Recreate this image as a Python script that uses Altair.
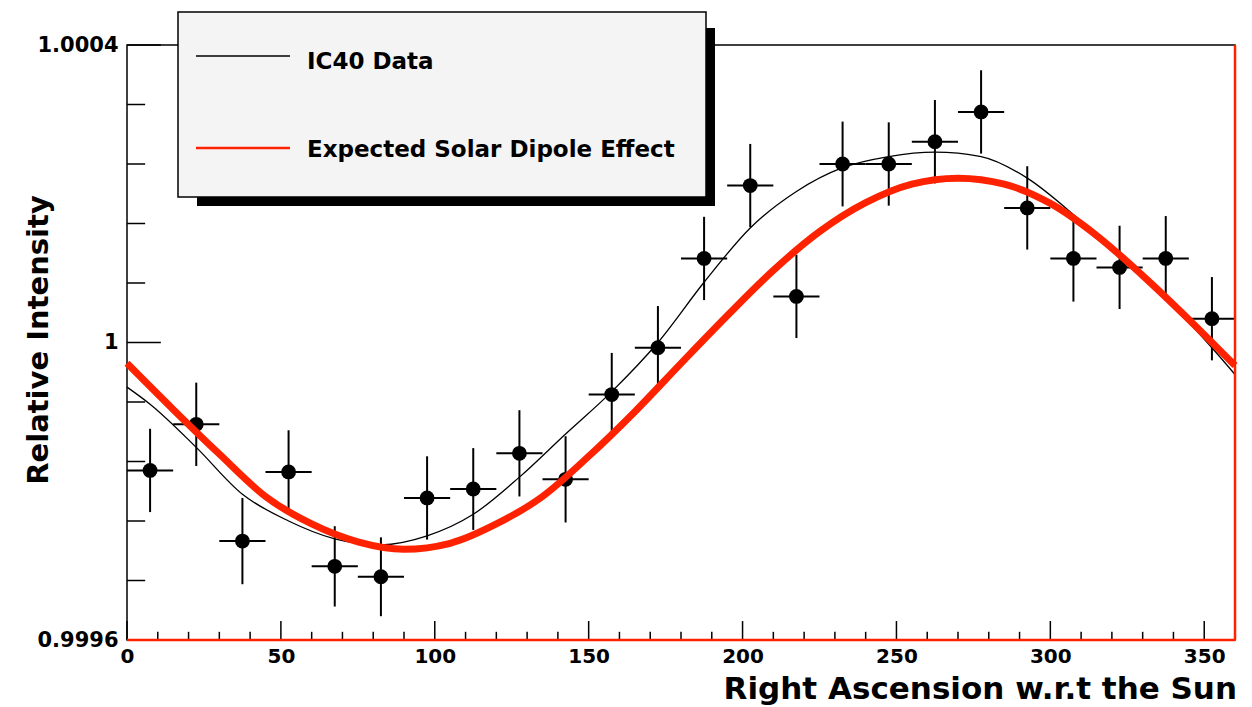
import altair as alt
import pandas as pd

# ---- data ----
ra_bins = [7.5, 22.5, 37.5, 52.5, 67.5, 82.5, 97.5, 112.5, 127.5, 142.5, 157.5, 172.5,
           187.5, 202.5, 217.5, 232.5, 247.5, 262.5, 277.5, 292.5, 307.5, 322.5, 337.5, 352.5]
intensity = [0.999828, 0.999890, 0.999733, 0.999826, 0.999699, 0.999685, 0.999791, 0.999803,
             0.999851, 0.999816, 0.999930, 0.999993, 1.000113, 1.000211, 1.000062, 1.000240,
             1.000240, 1.000270, 1.000310, 1.000181, 1.000113, 1.000101, 1.000113, 1.000032]
intensity_err = [0.000056, 0.000056, 0.000058, 0.000056, 0.000054, 0.000053, 0.000056, 0.000055,
                 0.000058, 0.000058, 0.000056, 0.000056, 0.000056, 0.000056, 0.000056, 0.000057,
                 0.000056, 0.000056, 0.000056, 0.000056, 0.000058, 0.000056, 0.000057, 0.000056]
bin_half_width = 7.5

expected_ra = [0, 15, 30, 45, 60, 75, 90, 105, 120, 135, 150, 165, 180,
               195, 210, 225, 240, 255, 270, 285, 300, 315, 330, 345, 360]
expected_val = [0.999972, 0.999910, 0.999850, 0.999793, 0.999756, 0.999732, 0.999722, 0.999730,
                0.999756, 0.999793, 0.999847, 0.999907, 0.999972, 1.000036, 1.000097, 1.000149,
                1.000188, 1.000213, 1.000221, 1.000213, 1.000187, 1.000144, 1.000090, 1.000031,
                0.999969]

fit_ra = [0, 7.5, 22.5, 37.5, 52.5, 67.5, 82.5, 97.5, 112.5, 127.5, 142.5, 157.5, 172.5,
          187.5, 202.5, 217.5, 232.5, 247.5, 262.5, 277.5, 292.5, 307.5, 322.5, 337.5, 352.5, 360]
fit_val = [0.999940, 0.999917, 0.999859, 0.999796, 0.999760, 0.999736, 0.999728, 0.999740,
           0.999769, 0.999819, 0.999877, 0.999934, 1.000000, 1.000081, 1.000154, 1.000203,
           1.000235, 1.000250, 1.000256, 1.000250, 1.000221, 1.000172, 1.000115, 1.000058,
           0.999993, 0.999957]

x_major = [0, 50, 100, 150, 200, 250, 300, 350]
x_minor = [10, 20, 30, 40, 60, 70, 80, 90, 110, 120, 130, 140, 160, 170, 180, 190,
           210, 220, 230, 240, 260, 270, 280, 290, 310, 320, 330, 340]
y_major = [0.9996, 1.0, 1.0004]
y_minor = [0.99968, 0.99976, 0.99984, 0.99992, 1.00008, 1.00016, 1.00024, 1.00032]

legend_labels = ["IC40 Data", "Expected Solar Dipole Effect"]
x_title = "Right Ascension w.r.t the Sun"
y_title = "Relative Intensity"

RED = "#ff2200"
FONT = "DejaVu Sans"
X0, X1 = 0, 360
Y0, Y1 = 0.9996, 1.0004

# ---- tables ----
pts = pd.DataFrame({"ra": ra_bins, "v": intensity, "e": intensity_err})
pts["lo"] = pts["v"] - pts["e"]
pts["hi"] = pts["v"] + pts["e"]
pts["xlo"] = pts["ra"] - bin_half_width
pts["xhi"] = pts["ra"] + bin_half_width

exp_df = pd.DataFrame({"ra": expected_ra, "v": expected_val})
fit_df = pd.DataFrame({"ra": fit_ra, "v": fit_val})

xt = pd.DataFrame({"t": x_major + x_minor,
                   "len": [0.0000255] * len(x_major) + [0.0000110] * len(x_minor)})
xt["y0"] = Y0
xt["y1"] = Y0 + xt["len"]
yt = pd.DataFrame({"t": y_major + y_minor,
                   "len": [11.0] * len(y_major) + [5.9] * len(y_minor)})
yt["x0"] = X0
yt["x1"] = X0 + yt["len"]

one = pd.DataFrame({"a": [0]})

xs = alt.Scale(domain=[X0, X1], nice=False, zero=False)
ys = alt.Scale(domain=[Y0, Y1], nice=False, zero=False)

x_axis = alt.Axis(values=x_major, format="d", ticks=False, domain=False, grid=False,
                  title=None, labelFont=FONT, labelFontWeight="bold", labelFontSize=20,
                  labelColor="black", labelPadding=6, labelFlush=False)
y_axis = alt.Axis(values=y_major, ticks=False, domain=False, grid=False, title=None,
                  labelExpr="datum.value == 1 ? '1' : format(datum.value, '.4f')",
                  labelFont=FONT, labelFontWeight="bold", labelFontSize=21,
                  labelColor="black", labelPadding=9, labelFlush=False)

base_pts = alt.Chart(pts)

vbars = base_pts.mark_rule(color="black", strokeWidth=2).encode(
    x=alt.X("ra:Q", scale=xs, axis=x_axis),
    y=alt.Y("lo:Q", scale=ys, axis=y_axis),
    y2="hi:Q",
)
hbars = base_pts.mark_rule(color="black", strokeWidth=2).encode(
    x=alt.X("xlo:Q", scale=xs), x2="xhi:Q", y=alt.Y("v:Q", scale=ys)
)
markers = base_pts.mark_circle(color="black", opacity=1, size=220).encode(
    x=alt.X("ra:Q", scale=xs), y=alt.Y("v:Q", scale=ys)
)

fit_line = alt.Chart(fit_df).mark_line(color="black", strokeWidth=1.3, interpolate="monotone").encode(
    x=alt.X("ra:Q", scale=xs), y=alt.Y("v:Q", scale=ys)
)
exp_line = alt.Chart(exp_df).mark_line(color=RED, strokeWidth=7, interpolate="monotone").encode(
    x=alt.X("ra:Q", scale=xs), y=alt.Y("v:Q", scale=ys)
)

xticks = alt.Chart(xt).mark_rule(color="black", strokeWidth=1.5).encode(
    x=alt.X("t:Q", scale=xs), y=alt.Y("y0:Q", scale=ys), y2="y1:Q"
)
yticks = alt.Chart(yt).mark_rule(color="black", strokeWidth=1.5).encode(
    y=alt.Y("t:Q", scale=ys), x=alt.X("x0:Q", scale=xs), x2="x1:Q"
)

red_bottom = alt.Chart(one).mark_rule(color=RED, strokeWidth=2.5).encode(
    x=alt.datum(X0, scale=xs), x2=alt.datum(X1), y=alt.datum(Y0, scale=ys)
)
red_right = alt.Chart(one).mark_rule(color=RED, strokeWidth=2.5).encode(
    x=alt.datum(X1, scale=xs), y=alt.datum(Y0, scale=ys), y2=alt.datum(Y1)
)

# legend box (layout positions in pixels)
shadow = alt.Chart(one).mark_rect(color="black").encode(
    x=alt.value(70), x2=alt.value(588), y=alt.value(-17), y2=alt.value(161)
)
box = alt.Chart(one).mark_rect(fill="#f4f4f4", stroke="black", strokeWidth=1.5).encode(
    x=alt.value(51), x2=alt.value(579), y=alt.value(-33), y2=alt.value(152)
)
leg_l1 = alt.Chart(one).mark_rule(color="black", strokeWidth=1.5).encode(
    x=alt.value(69), x2=alt.value(163), y=alt.value(11)
)
leg_l2 = alt.Chart(one).mark_rule(color=RED, strokeWidth=2.5).encode(
    x=alt.value(69), x2=alt.value(163), y=alt.value(103)
)
leg_t1 = alt.Chart(one).mark_text(align="left", baseline="middle", font=FONT, fontWeight="bold",
                                  fontSize=23, color="black").encode(
    x=alt.value(180), y=alt.value(17), text=alt.value(legend_labels[0])
)
leg_t2 = alt.Chart(one).mark_text(align="left", baseline="middle", font=FONT, fontWeight="bold",
                                  fontSize=23, color="black").encode(
    x=alt.value(180), y=alt.value(105), text=alt.value(legend_labels[1])
)

xtitle = alt.Chart(one).mark_text(align="right", baseline="alphabetic", font=FONT,
                                  fontWeight="bold", fontSize=31, color="black").encode(
    x=alt.value(1110), y=alt.value(654), text=alt.value(x_title)
)
ytitle = alt.Chart(one).mark_text(align="center", baseline="alphabetic", angle=270, font=FONT,
                                  fontWeight="bold", fontSize=29, color="black").encode(
    x=alt.value(-79), y=alt.value(295), text=alt.value(y_title)
)

chart = alt.layer(
    vbars, hbars, markers, fit_line, exp_line, xticks, yticks, red_bottom, red_right,
    shadow, box, leg_l1, leg_l2, leg_t1, leg_t2, xtitle, ytitle
).properties(
    width=1108, height=595,
    padding={"left": 127, "top": 45, "right": 17, "bottom": 67},
    autosize="none",
    background="white",
).configure_view(stroke="black", strokeWidth=1.5, fill="white")

chart.save("out.html", embed_options={"renderer": "svg", "actions": False})
